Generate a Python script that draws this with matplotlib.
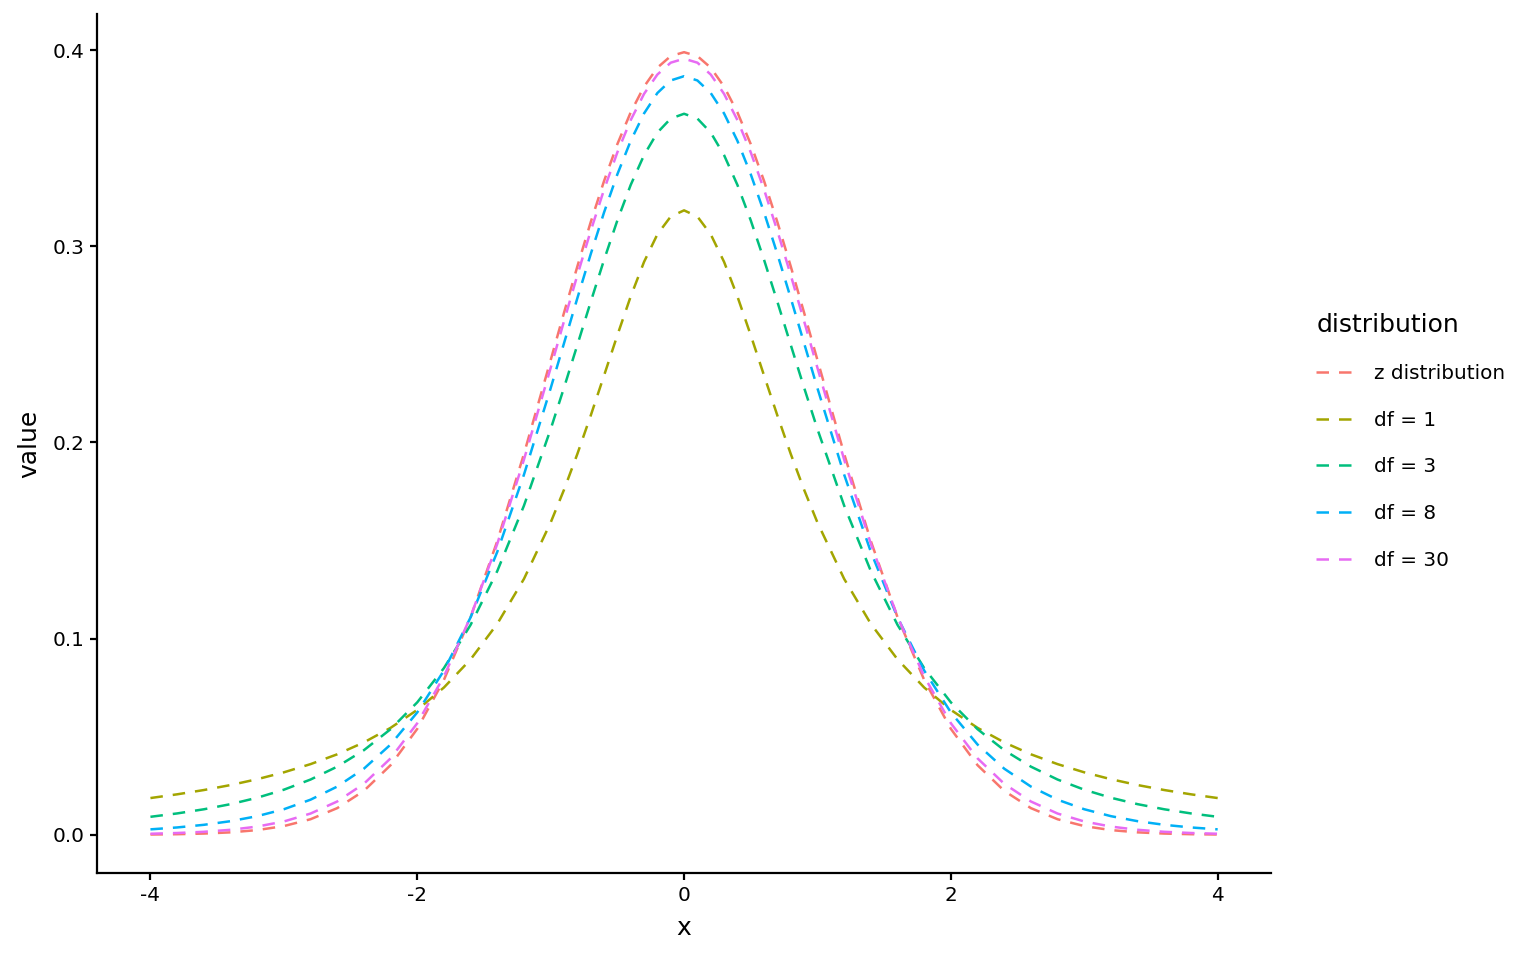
import matplotlib.pyplot as plt
import numpy as np

plt.rcParams['font.family'] = ['DejaVu Sans']

# x grid (finer near the peak)
x = [-4.0, -3.8, -3.6, -3.4, -3.2, -3.0, -2.8, -2.6, -2.4, -2.2, -2.0,
     -1.8, -1.6, -1.4, -1.2, -1.0, -0.9, -0.8, -0.7, -0.6, -0.5, -0.4, -0.3, -0.2, -0.1, 0.0,
     0.1, 0.2, 0.3, 0.4, 0.5, 0.6, 0.7, 0.8, 0.9, 1.0, 1.2, 1.4, 1.6, 1.8, 2.0,
     2.2, 2.4, 2.6, 2.8, 3.0, 3.2, 3.4, 3.6, 3.8, 4.0]

z_dist = [0.00013, 0.00029, 0.00061, 0.00123, 0.00238, 0.00443, 0.00792, 0.01358, 0.02239, 0.03547, 0.05399,
          0.07895, 0.11092, 0.14973, 0.19419, 0.24197, 0.26609, 0.28969, 0.31225, 0.33322, 0.35207,
          0.36827, 0.38139, 0.39104, 0.39695, 0.39894,
          0.39695, 0.39104, 0.38139, 0.36827, 0.35207, 0.33322, 0.31225, 0.28969, 0.26609, 0.24197,
          0.19419, 0.14973, 0.11092, 0.07895, 0.05399,
          0.03547, 0.02239, 0.01358, 0.00792, 0.00443, 0.00238, 0.00123, 0.00061, 0.00029, 0.00013]

df1 = [0.01872, 0.02062, 0.02280, 0.02534, 0.02832, 0.03183, 0.03601, 0.04102, 0.04709, 0.05450, 0.06366,
       0.07507, 0.08941, 0.10754, 0.13045, 0.15915, 0.17586, 0.19409, 0.21363, 0.23405, 0.25465,
       0.27441, 0.29203, 0.30607, 0.31516, 0.31831,
       0.31516, 0.30607, 0.29203, 0.27441, 0.25465, 0.23405, 0.21363, 0.19409, 0.17586, 0.15915,
       0.13045, 0.10754, 0.08941, 0.07507, 0.06366,
       0.05450, 0.04709, 0.04102, 0.03601, 0.03183, 0.02832, 0.02534, 0.02280, 0.02062, 0.01872]

df3 = [0.00916, 0.01088, 0.01299, 0.01560, 0.01887, 0.02297, 0.02815, 0.03473, 0.04311, 0.05382, 0.06751,
       0.08496, 0.10701, 0.13446, 0.16780, 0.20675, 0.22788, 0.24967, 0.27159, 0.29301, 0.31318,
       0.33127, 0.34645, 0.35795, 0.36511, 0.36755,
       0.36511, 0.35795, 0.34645, 0.33127, 0.31318, 0.29301, 0.27159, 0.24967, 0.22788, 0.20675,
       0.16780, 0.13446, 0.10701, 0.08496, 0.06751,
       0.05382, 0.04311, 0.03473, 0.02815, 0.02297, 0.01887, 0.01560, 0.01299, 0.01088, 0.00916]

df8 = [0.00276, 0.00373, 0.00507, 0.00692, 0.00948, 0.01301, 0.01788, 0.02457, 0.03369, 0.04600, 0.06237,
       0.08372, 0.11086, 0.14425, 0.18361, 0.22761, 0.25054, 0.27351, 0.29593, 0.31721, 0.33669,
       0.35373, 0.36771, 0.37812, 0.38453, 0.38670,
       0.38453, 0.37812, 0.36771, 0.35373, 0.33669, 0.31721, 0.29593, 0.27351, 0.25054, 0.22761,
       0.18361, 0.14425, 0.11086, 0.08372, 0.06237,
       0.04600, 0.03369, 0.02457, 0.01788, 0.01301, 0.00948, 0.00692, 0.00507, 0.00373, 0.00276]

df30 = [0.00052, 0.00090, 0.00151, 0.00253, 0.00417, 0.00678, 0.01082, 0.01696, 0.02600, 0.03895, 0.05685,
        0.08071, 0.11119, 0.14834, 0.19129, 0.23799, 0.26179, 0.28524, 0.30777, 0.32884, 0.34788,
        0.36432, 0.37768, 0.38755, 0.39359, 0.39563,
        0.39359, 0.38755, 0.37768, 0.36432, 0.34788, 0.32884, 0.30777, 0.28524, 0.26179, 0.23799,
        0.19129, 0.14834, 0.11119, 0.08071, 0.05685,
        0.03895, 0.02600, 0.01696, 0.01082, 0.00678, 0.00417, 0.00253, 0.00151, 0.00090, 0.00052]

labels = ['z distribution', 'df = 1', 'df = 3', 'df = 8', 'df = 30']
colors = ['#F8766D', '#A3A500', '#00BF7D', '#00B0F6', '#E76BF3']
series = [z_dist, df1, df3, df8, df30]

xticks = [-4, -2, 0, 2, 4]
xtick_labels = ['-4', '-2', '0', '2', '4']
yticks = [0.0, 0.1, 0.2, 0.3, 0.4]

fig = plt.figure(figsize=(15.36, 9.6), dpi=100)
ax = fig.add_axes([0.0632, 0.0906, 0.7643, 0.8948])

for ys, lab, col in zip(series, labels, colors):
    ax.plot(x, ys, color=col, lw=1.8, dashes=(5, 4), label=lab)

ax.set_xlim(-4.4, 4.4)
ax.set_ylim(-0.0195, 0.4184)
ax.set_xticks(xticks)
ax.set_xticklabels(xtick_labels)
ax.set_yticks(yticks)

for side in ['top', 'right']:
    ax.spines[side].set_visible(False)
for side in ['left', 'bottom']:
    ax.spines[side].set_linewidth(1.6)
ax.tick_params(width=1.6, length=5, labelsize=14.4, colors='black', pad=4)

ax.set_xlabel('x', fontsize=18, labelpad=8)
ax.set_ylabel('value', fontsize=18, labelpad=8)

leg = ax.legend(loc='center left', bbox_to_anchor=(0.857, 0.5406),
                bbox_transform=fig.transFigure, frameon=False,
                title='distribution', title_fontsize=18, fontsize=14.4,
                handlelength=1.85, handletextpad=1.05, labelspacing=1.38,
                borderpad=0, borderaxespad=0)
leg._legend_box.align = 'left'

fig.savefig('out.png', dpi=100)
